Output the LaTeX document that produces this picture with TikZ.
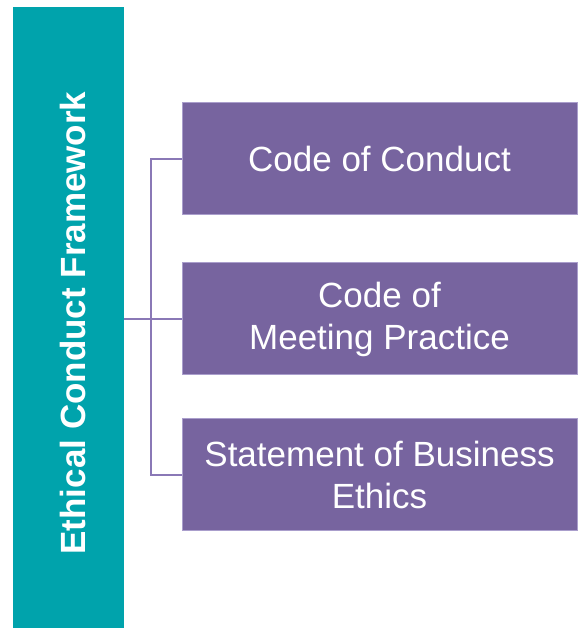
\documentclass[tikz,border=0pt]{standalone}
\usepackage{fontspec}
\setmainfont{Liberation Sans}
\definecolor{tealbar}{RGB}{0,163,172}
\definecolor{boxfill}{RGB}{119,100,159}
\definecolor{boxline}{RGB}{170,158,204}
\definecolor{conn}{RGB}{138,120,182}
\tikzset{
  bar/.style={fill=tealbar, draw=none, inner sep=0pt, outer sep=0pt},
  item/.style={fill=boxfill, draw=boxline, line width=1pt, minimum width=395pt, minimum height=112pt,
    inner sep=0pt, outer sep=0pt, text=white, align=center, font=\fontsize{35}{42}\selectfont},
  title/.style={text=white, rotate=90, font=\bfseries\fontsize{35}{42}\selectfont, inner sep=0pt},
  link/.style={draw=conn, line width=2pt}
}
\begin{document}
\begin{tikzpicture}[x=1pt,y=1pt]
\useasboundingbox (0,0) rectangle (578,628);
\node[bar, minimum width=111pt, minimum height=621pt, anchor=south west] (frame) at (13,0) {};
\node[title] (ttl) at (72.5,305) {Ethical Conduct Framework};
\node[item] (b1) at (379.5,469) {Code of Conduct};
\node[item] (b2) at (379.5,309) {Code of\\Meeting Practice};
\node[item] (b3) at (379.5,153) {Statement of Business\\Ethics};
\coordinate (spine) at (151,309);
\draw[link] (frame.east |- b2.west) -- (b2.west);
\draw[link] (b1.west) -| (spine |- b1.west) |- (b3.west);
\end{tikzpicture}
\end{document}
